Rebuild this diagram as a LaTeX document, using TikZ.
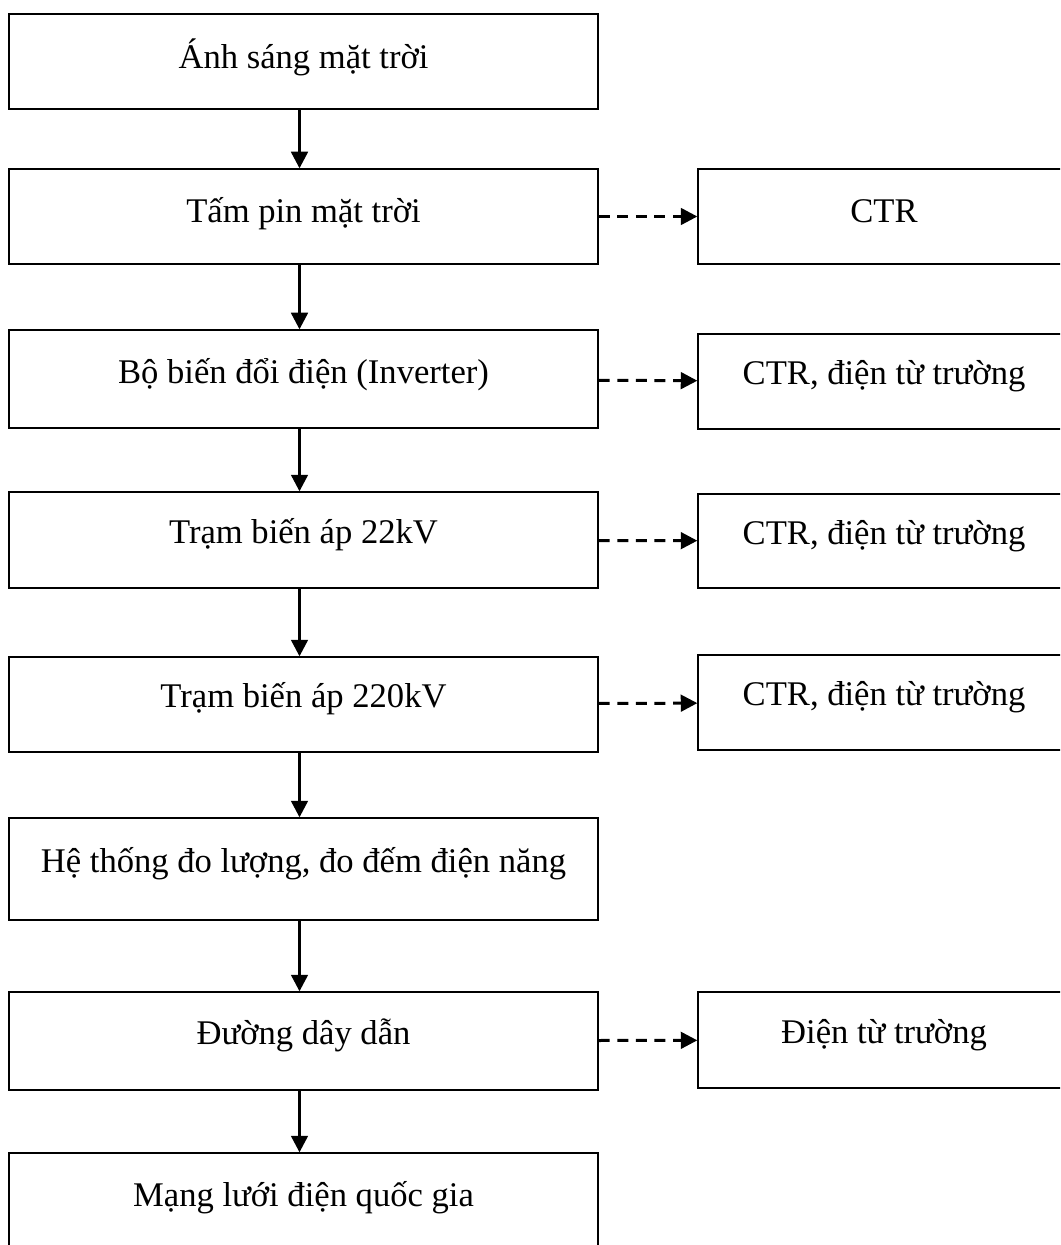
\documentclass[tikz,border=0pt]{standalone}
\usepackage{fontspec}
\setmainfont{Liberation Serif}
\usetikzlibrary{arrows.meta,positioning}

\begin{document}
\begin{tikzpicture}[x = 0.5pt, y = -0.5pt]
	\tikzstyle{every node} = [rectangle, draw = black, line width = 0.65pt, inner sep = 0pt, text height = 12pt, text depth = 9pt, font = \fontsize{17.3pt}{20pt}\selectfont]
	\tikzstyle{stage} = [minimum width = 294.5pt]
	\tikzstyle{waste} = [minimum width = 186pt]
	\tikzstyle{flow} = [line width = 1.5pt, -{Triangle[length = 8.3pt, width = 8.3pt]}]
	\tikzstyle{down} = [flow, transform canvas = {xshift = -2pt}]
	\tikzstyle{emit} = [flow, dash pattern = on 5.5pt off 3.8pt]
\useasboundingbox (0, 0) rectangle (1060, 1245);
\clip (0, 0) rectangle (1060, 1245);
\node[stage, minimum height = 47.5pt, text height = 14pt, text depth = 7pt] (1) at (303.5, 61.5) {Ánh sáng mặt trời};
\node[stage, minimum height = 47.5pt, text height = 13.5pt, text depth = 7.5pt] (2) at (303.5, 216.5) {Tấm pin mặt trời};
\node[stage, minimum height = 49pt, text height = 13pt, text depth = 8pt] (3) at (303.5, 379) {Bộ biến đổi điện (Inverter)};
\node[stage, minimum height = 48pt] (4) at (303.5, 540) {Trạm biến áp 22kV};
\node[stage, minimum height = 47.5pt] (5) at (303.5, 704.5) {Trạm biến áp 220kV};
\node[stage, minimum height = 51pt] (6) at (303.5, 869) {Hệ thống đo lượng, đo đếm điện năng};
\node[stage, minimum height = 49pt] (7) at (303.5, 1041) {Đường dây dẫn};
\node[stage, minimum height = 50pt] (8) at (303.5, 1203) {Mạng lưới điện quốc gia};
	\node[waste, minimum height = 47.5pt, text height = 13.5pt, text depth = 7.5pt] (9) at (884, 216.5) {CTR};
	\node[waste, minimum height = 47.5pt] (10) at (884, 381.5) {CTR, điện từ trường};
	\node[waste, minimum height = 47pt] (11) at (884, 541) {CTR, điện từ trường};
	\node[waste, minimum height = 47.5pt] (12) at (884, 702.5) {CTR, điện từ trường};
	\node[waste, minimum height = 48pt] (13) at (884, 1040) {Điện từ trường};

	\path[draw, down] (1) -- (2);
	\path[draw, down] (2) -- (3);
	\path[draw, down] (3) -- (4);
	\path[draw, down] (4) -- (5);
	\path[draw, down] (5) -- (6);
	\path[draw, down] (6) -- (7);
	\path[draw, down] (7) -- (8);

	\path[draw, emit] (2) -- (9);
	\path[draw, emit] (3) -- (10);
	\path[draw, emit] (4) -- (11);
	\path[draw, emit] (5) -- (12);
	\path[draw, emit] (7) -- (13);
	\end{tikzpicture}
\end{document}
